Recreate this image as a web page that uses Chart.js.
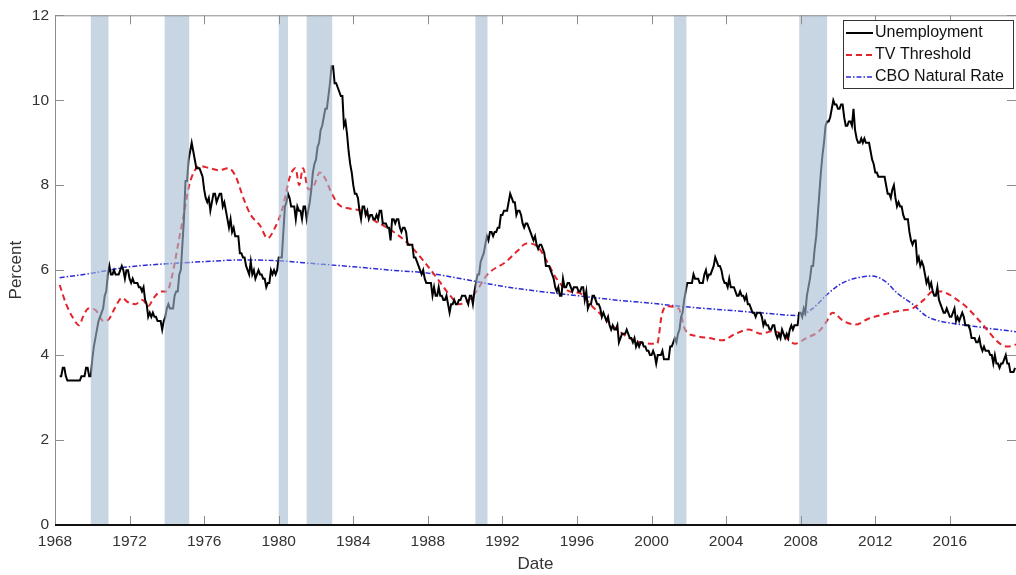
<!DOCTYPE html>
<html>
<head>
<meta charset="utf-8">
<script src="https://cdn.jsdelivr.net/npm/chart.js@4.4.0/dist/chart.umd.min.js"></script>
<style>
html, body { margin: 0; padding: 0; background: #fff; }
#wrap { width: 1016px; height: 575px; }
</style>
</head>
<body>
<div id="wrap"><canvas id="myChart" width="1016" height="575"></canvas></div>
<script>
// monthly unemployment rate, starting April 1968
var unempStart = 1968.25;
var unemp = [
  3.5,3.5,3.7,3.7,3.5,3.4,3.4,3.4,3.4,
  3.4,3.4,3.4,3.4,3.4,3.5,3.5,3.5,3.7,3.7,3.5,3.5,
  3.9,4.2,4.4,4.6,4.8,4.9,5.0,5.1,5.4,5.5,5.9,6.1,
  5.9,5.9,6.0,5.9,5.9,5.9,6.0,6.1,6.0,5.8,6.0,6.0,
  5.8,5.7,5.8,5.7,5.7,5.7,5.6,5.6,5.5,5.6,5.3,5.2,
  4.9,5.0,4.9,5.0,4.9,4.9,4.8,4.8,4.8,4.6,4.8,4.9,
  5.1,5.2,5.1,5.1,5.1,5.4,5.5,5.5,5.9,6.0,6.6,7.2,
  8.1,8.1,8.6,8.8,9.0,8.8,8.6,8.4,8.4,8.4,8.3,8.2,
  7.9,7.7,7.6,7.7,7.4,7.6,7.8,7.8,7.6,7.7,7.8,7.8,
  7.5,7.6,7.4,7.2,7.0,7.2,6.9,7.0,6.8,6.8,6.8,6.4,
  6.4,6.3,6.3,6.1,6.0,5.9,6.2,5.9,6.0,5.8,5.9,6.0,
  5.9,5.9,5.8,5.8,5.6,5.7,5.7,6.0,5.9,6.0,5.9,6.0,
  6.3,6.3,6.3,6.9,7.5,7.6,7.8,7.7,7.5,7.5,7.5,7.2,
  7.5,7.4,7.4,7.2,7.5,7.5,7.2,7.4,7.6,7.9,8.3,8.5,
  8.6,8.9,9.0,9.3,9.4,9.6,9.8,9.8,10.1,10.4,10.8,10.8,
  10.4,10.4,10.3,10.2,10.1,10.1,9.4,9.5,9.2,8.8,8.5,8.3,
  8.0,7.8,7.8,7.7,7.4,7.2,7.5,7.5,7.3,7.4,7.2,7.3,
  7.3,7.2,7.2,7.3,7.2,7.4,7.4,7.1,7.1,7.1,7.0,7.0,
  6.7,7.2,7.2,7.1,7.2,7.2,7.0,6.9,7.0,7.0,6.9,6.6,
  6.6,6.6,6.6,6.3,6.3,6.2,6.1,6.0,5.9,6.0,5.8,5.7,
  5.7,5.7,5.7,5.4,5.6,5.4,5.4,5.6,5.4,5.4,5.3,5.3,
  5.4,5.2,5.0,5.2,5.2,5.3,5.2,5.2,5.3,5.3,5.4,5.4,
  5.4,5.3,5.2,5.4,5.4,5.2,5.5,5.7,5.9,5.9,6.2,6.3,
  6.4,6.6,6.8,6.7,6.9,6.9,6.8,6.9,6.9,7.0,7.0,7.3,
  7.3,7.4,7.4,7.4,7.6,7.8,7.7,7.6,7.6,7.3,7.4,7.4,
  7.3,7.1,7.0,7.1,7.1,7.0,6.9,6.8,6.7,6.8,6.6,6.5,
  6.6,6.6,6.5,6.4,6.1,6.1,6.1,6.0,5.9,5.8,5.6,5.5,
  5.6,5.4,5.4,5.8,5.6,5.6,5.7,5.7,5.6,5.5,5.6,5.6,
  5.6,5.5,5.5,5.6,5.6,5.3,5.5,5.1,5.2,5.2,5.4,5.4,
  5.3,5.2,5.2,5.1,4.9,5.0,4.9,4.8,4.9,4.7,4.6,4.7,
  4.6,4.6,4.7,4.3,4.4,4.5,4.5,4.5,4.6,4.5,4.4,4.4,
  4.3,4.4,4.2,4.3,4.2,4.3,4.3,4.2,4.2,4.1,4.1,4.0,
  4.0,4.1,4.0,3.8,4.0,4.0,4.0,4.1,3.9,3.9,3.9,3.9,
  4.2,4.2,4.3,4.4,4.3,4.5,4.6,4.9,5.0,5.3,5.5,5.7,
  5.7,5.7,5.7,5.9,5.8,5.8,5.8,5.7,5.7,5.7,5.9,6.0,
  5.8,5.9,5.9,6.0,6.1,6.3,6.2,6.1,6.1,6.0,5.8,5.7,
  5.7,5.6,5.8,5.6,5.6,5.6,5.5,5.4,5.4,5.5,5.4,5.4,
  5.3,5.4,5.2,5.2,5.1,5.0,5.0,4.9,5.0,5.0,5.0,4.9,
  4.7,4.8,4.7,4.7,4.6,4.6,4.7,4.7,4.5,4.4,4.5,4.4,
  4.6,4.5,4.4,4.5,4.4,4.6,4.7,4.6,4.7,4.7,4.7,5.0,
  5.0,4.9,5.1,5.0,5.4,5.6,5.8,6.1,6.1,6.5,6.8,7.3,
  7.8,8.3,8.7,9.0,9.4,9.5,9.5,9.6,9.8,10.0,9.9,9.9,
  9.8,9.8,9.9,9.9,9.6,9.4,9.4,9.5,9.5,9.4,9.8,9.3,
  9.1,9.0,9.0,9.1,9.0,9.1,9.0,9.0,9.0,8.8,8.6,8.5,
  8.3,8.3,8.2,8.2,8.2,8.2,8.2,8.0,7.8,7.8,7.7,7.9,
  8.0,7.7,7.5,7.6,7.5,7.5,7.3,7.2,7.2,7.2,6.9,6.7,
  6.6,6.7,6.7,6.2,6.3,6.1,6.2,6.1,5.9,5.7,5.8,5.6,
  5.7,5.5,5.4,5.4,5.6,5.3,5.2,5.1,5.0,5.0,5.1,5.0,
  4.9,4.9,5.0,5.1,4.8,4.9,4.8,4.9,5.0,4.9,4.7,4.7,
  4.7,4.6,4.4,4.4,4.4,4.3,4.3,4.4,4.2,4.1,4.2,4.1,
  4.1,4.1,4.0,4.0,3.8,4.0,3.8,3.8,3.7,3.8,3.8,3.9,
  4.0,3.8,3.8,3.6,3.6,3.6,3.7
];

// TV threshold
var tvYears = [1968.25,1968.6,1969.0,1969.3,1969.5,1969.8,1970.2,1970.6,1970.9,1971.2,1971.6,1971.9,
  1972.3,1972.7,1973.0,1973.3,1973.7,1974.0,1974.3,1974.6,1974.9,1975.2,1975.5,1975.8,1976.3,1976.8,
  1977.3,1977.7,1978.1,1978.5,1979.0,1979.4,1979.8,1980.2,1980.6,1980.9,1981.1,1981.3,1981.6,1981.9,
  1982.2,1982.5,1982.8,1983.2,1983.8,1984.4,1985.2,1986.0,1987.0,1987.8,1988.6,1989.2,1989.7,1990.2,
  1990.6,1991.2,1992.2,1992.8,1993.3,1993.9,1994.4,1994.9,1995.6,1996.2,1996.7,1997.3,1997.8,1998.3,
  1998.8,1999.4,1999.9,2000.3,2000.55,2000.8,2001.45,2001.8,2002.4,2003.1,2003.8,2004.5,2005.2,2005.9,
  2006.5,2007.1,2007.7,2008.3,2009.0,2009.4,2009.7,2010.3,2010.95,2011.6,2012.4,2013.25,2014.0,2014.6,
  2015.1,2015.5,2015.95,2016.4,2016.85,2017.4,2017.9,2018.6,2019.1,2019.55];
var tvValues = [5.65,5.2,4.85,4.7,4.9,5.1,5.05,4.8,4.85,5.1,5.35,5.25,
  5.2,5.3,5.15,5.35,5.5,5.5,5.9,6.6,7.3,8.0,8.35,8.45,8.4,8.35,
  8.4,8.2,7.7,7.3,7.05,6.75,7.0,7.45,8.2,8.4,8.0,8.4,7.9,8.0,
  8.3,8.15,7.85,7.55,7.45,7.4,7.15,6.95,6.6,6.2,5.75,5.4,5.2,5.3,
  5.5,5.9,6.2,6.45,6.63,6.55,6.2,5.8,5.5,5.45,5.2,4.95,4.73,4.55,
  4.4,4.3,4.27,4.27,4.95,5.15,5.1,4.6,4.45,4.4,4.35,4.5,4.6,4.5,
  4.57,4.45,4.27,4.4,4.57,4.8,5.0,4.8,4.72,4.85,4.95,5.04,5.1,5.3,
  5.5,5.5,5.43,5.3,5.15,4.9,4.65,4.3,4.2,4.25];

// CBO natural rate
var cboYears = [1968.25,1970,1972,1974,1976,1978,1980,1982,1984,1986,1988,1990,1992,1994,1996,1998,
  2000,2002,2004,2006,2007.9,2008.65,2009.35,2010.05,2010.7,2011.8,2012.5,2013.2,2014.0,2014.7,
  2015.3,2015.95,2017.75,2019.55];
var cboValues = [5.82,5.93,6.08,6.15,6.2,6.24,6.22,6.15,6.08,6.0,5.93,5.78,5.62,5.5,5.4,5.3,
  5.22,5.13,5.06,4.99,4.93,5.1,5.4,5.65,5.78,5.86,5.75,5.45,5.2,4.93,
  4.82,4.76,4.65,4.55];

// recessions (shaded)
var recStart = [1969.92, 1973.88, 1980.0, 1981.5, 1990.55, 2001.2, 2007.92];
var recEnd   = [1970.87, 1975.2, 1980.5, 1982.87, 1991.2, 2001.87, 2009.42];

var xTicks = [1968,1972,1976,1980,1984,1988,1992,1996,2000,2004,2008,2012,2016];
var yTicks = [0,2,4,6,8,10,12];

var unempPts = unemp.map(function (v, i) { return { x: unempStart + i / 12, y: v }; });
var tvPts = tvYears.map(function (y, i) { return { x: y, y: tvValues[i] }; });
var cboPts = cboYears.map(function (y, i) { return { x: y, y: cboValues[i] }; });

var FONT = '"Liberation Sans", Arial, sans-serif';

var framePlugin = {
  id: 'frame',
  afterDatasetsDraw: function (chart) {
    var ctx = chart.ctx, a = chart.chartArea;
    var xs = chart.scales.x, ys = chart.scales.y;
    ctx.save();
    // recession bands over the lines
    ctx.fillStyle = 'rgba(163,187,210,0.6)';
    for (var i = 0; i < recStart.length; i++) {
      var x0 = xs.getPixelForValue(recStart[i]);
      var x1 = xs.getPixelForValue(recEnd[i]);
      ctx.fillRect(x0, a.top, x1 - x0, a.bottom - a.top);
    }
    // box
    ctx.strokeStyle = '#8c8c8c';
    ctx.lineWidth = 1;
    ctx.beginPath();
    ctx.moveTo(a.left + 0.5, a.bottom);
    ctx.lineTo(a.left + 0.5, a.top + 0.5);
    ctx.lineTo(a.right, a.top + 0.5);
    ctx.stroke();
    // inward ticks
    ctx.beginPath();
    xTicks.forEach(function (t) {
      var px = Math.round(xs.getPixelForValue(t)) + 0.5;
      ctx.moveTo(px, a.bottom); ctx.lineTo(px, a.bottom - 9);
      ctx.moveTo(px, a.top); ctx.lineTo(px, a.top + 9);
    });
    yTicks.forEach(function (t) {
      var py = Math.round(ys.getPixelForValue(t)) + 0.5;
      ctx.moveTo(a.left, py); ctx.lineTo(a.left + 9, py);
      ctx.moveTo(a.right, py); ctx.lineTo(a.right - 9, py);
    });
    ctx.stroke();
    // bottom axis line
    ctx.strokeStyle = '#111';
    ctx.lineWidth = 2;
    ctx.beginPath();
    ctx.moveTo(a.left, a.bottom);
    ctx.lineTo(a.right, a.bottom);
    ctx.stroke();

    // legend
    var lx = 843, ly = 20, lw = 170, lh = 68;
    ctx.fillStyle = '#fff';
    ctx.fillRect(lx, ly, lw, lh);
    ctx.strokeStyle = '#333';
    ctx.lineWidth = 1;
    ctx.strokeRect(lx + 0.5, ly + 0.5, lw, lh);
    ctx.font = '16px ' + FONT;
    ctx.textBaseline = 'middle';
    ctx.textAlign = 'left';
    chart.data.datasets.forEach(function (ds, k) {
      var cy = ly + 13 + k * 22;
      ctx.save();
      ctx.strokeStyle = ds.borderColor;
      ctx.lineWidth = ds.borderWidth;
      ctx.setLineDash(ds.borderDash || []);
      ctx.beginPath();
      ctx.moveTo(lx + 3, cy);
      ctx.lineTo(lx + 30, cy);
      ctx.stroke();
      ctx.restore();
      ctx.fillStyle = '#111';
      ctx.fillText(ds.label, lx + 32, cy);
    });
    ctx.restore();
  }
};

var ctx = document.getElementById('myChart').getContext('2d');
var myChart = new Chart(ctx, {
  type: 'line',
  data: {
    datasets: [
      { label: 'Unemployment', data: unempPts, borderColor: '#000', borderWidth: 2,
        pointRadius: 0, tension: 0 },
      { label: 'TV Threshold', data: tvPts, borderColor: '#e3242b', borderWidth: 2,
        borderDash: [6, 4], pointRadius: 0, tension: 0.4, cubicInterpolationMode: 'monotone' },
      { label: 'CBO Natural Rate', data: cboPts, borderColor: '#2b2bd9', borderWidth: 1.5,
        borderDash: [5, 2, 1.5, 2], pointRadius: 0, cubicInterpolationMode: 'monotone' }
    ]
  },
  options: {
    responsive: false,
    animation: false,
    layout: { padding: { top: 13, right: 0, left: 0, bottom: 0 } },
    plugins: { legend: { display: false }, tooltip: { enabled: false } },
    scales: {
      x: {
        type: 'linear',
        min: 1968,
        max: 2019.55,
        grid: { display: false, drawTicks: false },
        border: { display: false },
        afterBuildTicks: function (s) { s.ticks = xTicks.map(function (v) { return { value: v }; }); },
        afterFit: function (s) { s.height = 50; },
        ticks: { padding: 7, color: '#333', font: { family: FONT, size: 15.5 },
          maxRotation: 0, autoSkip: false, callback: function (v) { return String(v); } },
        title: { display: true, text: 'Date', color: '#333', font: { family: FONT, size: 17 },
          padding: { top: 0, bottom: 0 } }
      },
      y: {
        min: 0,
        max: 12,
        grid: { display: false, drawTicks: false },
        border: { display: false },
        afterBuildTicks: function (s) { s.ticks = yTicks.map(function (v) { return { value: v }; }); },
        afterFit: function (s) { s.width = 55; },
        ticks: { padding: 6, color: '#333', font: { family: FONT, size: 15.5 } },
        title: { display: true, text: 'Percent', color: '#333', font: { family: FONT, size: 17 },
          padding: { top: 6, bottom: 0 } }
      }
    }
  },
  plugins: [framePlugin]
});
</script>
</body>
</html>
